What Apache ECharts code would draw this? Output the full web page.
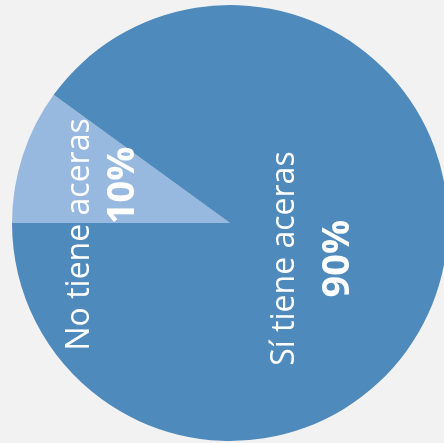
<!DOCTYPE html>
<html>
<head>
<meta charset="utf-8">
<script src="https://cdn.jsdelivr.net/npm/echarts@6/dist/echarts.min.js"></script>
<style>
  html, body { margin: 0; padding: 0; background: #f2f2f2; }
  #chart { width: 444px; height: 443px; }
</style>
</head>
<body>
<div id="chart"></div>
<script>
// categories and their share (%)
var categories = ['No tiene aceras', 'Sí tiene aceras'];
var shares = [10, 90];
var colors = ['#98b9df', '#4f8abd'];

// per-slice label tweaks (line gap, shift of the % line, nudge on screen)
var lineGaps = [43, 54];
var pctShift = [98, 0];
var nudges = [[-22, 46], [-25, 1]];

var chart = echarts.init(document.getElementById('chart'));

var data = categories.map(function (name, i) {
  return {
    name: name,
    value: shares[i],
    itemStyle: { color: colors[i] },
    label: {
      rich: {
        n: { fontSize: 32, lineHeight: lineGaps[i], color: '#fff', fontFamily: 'Open Sans' },
        p: { fontSize: 38, fontWeight: 'bold', lineHeight: lineGaps[i], color: '#fff',
             fontFamily: 'Open Sans', padding: [0, 0, 0, pctShift[i]] }
      }
    }
  };
});

var option = {
  backgroundColor: '#f2f2f2',
  animation: false,
  series: [{
    type: 'pie',
    center: [230, 223],
    radius: 218,
    startAngle: 180,
    clockwise: true,
    silent: true,
    data: data,
    label: {
      show: true,
      position: 'inside',
      rotate: 90,
      formatter: function (p) {
        return '{n|' + p.name + '}\n{p|' + p.value + '%}';
      }
    },
    labelLine: { show: false },
    // dx/dy work in the rotated label frame, so swap the screen nudge
    labelLayout: function (params) {
      var d = nudges[params.dataIndex];
      return { dx: -d[1], dy: d[0] };
    }
  }]
};

chart.setOption(option);
</script>
</body>
</html>
